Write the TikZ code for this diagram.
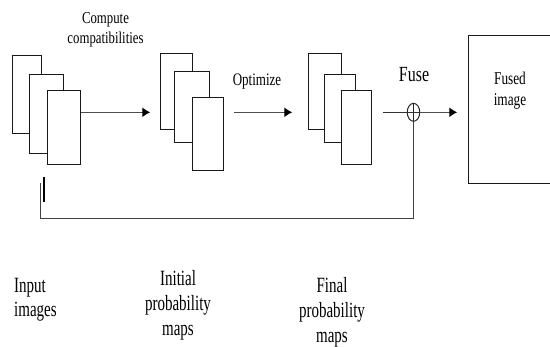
\documentclass[tikz,border=0pt]{standalone}
\usepackage{fontspec}
\setmainfont{Liberation Serif}
\usetikzlibrary{arrows.meta,shapes.geometric}
\newcommand{\vst}[2]{\scalebox{1}[#1]{#2}}
\begin{document}
\begin{tikzpicture}[x=1pt,y=-1pt,
  sheet/.style={draw=black!90,line width=1pt,fill=white,anchor=north west,inner sep=0pt},
  arr/.style={draw=black!70,line width=1.3pt,-{Latex[length=8pt,width=10pt,color=black]}},
  lbl/.style={inner sep=0pt,align=center,text=black},
  feed/.style={draw=black!75,line width=1.4pt}]
\useasboundingbox (0,0) rectangle (550,347);
% input stack
\node[sheet,minimum width=28.7pt,minimum height=78pt] (in1) at (12.3,55) {};
\node[sheet,minimum width=33.4pt,minimum height=79pt] (in2) at (29.3,74) {};
\node[sheet,minimum width=33pt,minimum height=74pt] (in3) at (47,90) {};
% initial stack
\node[sheet,minimum width=31.7pt,minimum height=76pt] (ini1) at (160.3,53) {};
\node[sheet,minimum width=35pt,minimum height=71pt] (ini2) at (174.3,70.7) {};
\node[sheet,minimum width=30.7pt,minimum height=73.3pt] (ini3) at (192,96.7) {};
% final stack
\node[sheet,minimum width=32.7pt,minimum height=76.6pt] (fin1) at (308.3,52.7) {};
\node[sheet,minimum width=30.7pt,minimum height=67.7pt] (fin2) at (324.3,74) {};
\node[sheet,minimum width=30pt,minimum height=74pt] (fin3) at (341,90) {};
% fused box
\node[sheet,minimum width=100pt,minimum height=148.3pt] (fbox) at (468.3,35) {};
% fuse circle
\node[draw=black!85,line width=1pt,ellipse,minimum width=12.5pt,minimum height=18pt,inner sep=0pt] (sum) at (413.5,112.3) {};
\draw[black!85,line width=1pt] (sum.north) -- (sum.south);
% arrows
\draw[arr,shorten >=10pt] (in3.east |- 0,112.3) -- (ini1.west |- 0,112.3);
\draw[arr,shorten <=10.5pt,shorten >=16pt] (ini3.east |- 0,112.3) -- (fin1.west |- 0,112.3);
\draw[black!80,line width=1.1pt,shorten <=11pt] (fin3.east |- 0,112.3) -- (sum.east);
\draw[arr,shorten >=11pt] (sum.east) -- (fbox.west |- 0,112.3);
% feedback
\coordinate (ta) at (44,177);
\coordinate (tb) at (44,202);
\coordinate (fa) at (40.7,183);
\coordinate (fc) at (40.7,218.3);
\draw[black,line width=2.4pt] (ta) -- (tb);
\draw[feed] (fa) -- (fc) -- (sum.south |- fc) -- (sum.south);
% labels
\node[lbl,font=\fontsize{12.8}{20}\selectfont] (tcomp) at (105.5,30) {\vst{1.3}{Compute}\\\vst{1.3}{compatibilities}};
\node[lbl,font=\fontsize{13}{20}\selectfont] (topt) at (257,81.5) {\vst{1.35}{Optimize}};
\node[lbl,font=\fontsize{16}{20}\selectfont] (tfuse) at (414,75) {\vst{1.35}{Fuse}};
\node[lbl,font=\fontsize{13.3}{21}\selectfont] (tfused) at (510,90.5) {\vst{1.35}{Fused}\\\vst{1.35}{image}};
\node[lbl,font=\fontsize{15}{24}\selectfont,align=left,anchor=west] (tin) at (14,299.5) {\vst{1.45}{Input}\\\vst{1.45}{images}};
\node[lbl,font=\fontsize{15}{25}\selectfont] (tini) at (178,305.5) {\vst{1.45}{Initial}\\\vst{1.45}{probability}\\\vst{1.45}{maps}};
\node[lbl,font=\fontsize{15}{25}\selectfont] (tfin) at (332,312.5) {\vst{1.45}{Final}\\\vst{1.45}{probability}\\\vst{1.45}{maps}};
\end{tikzpicture}
\end{document}
